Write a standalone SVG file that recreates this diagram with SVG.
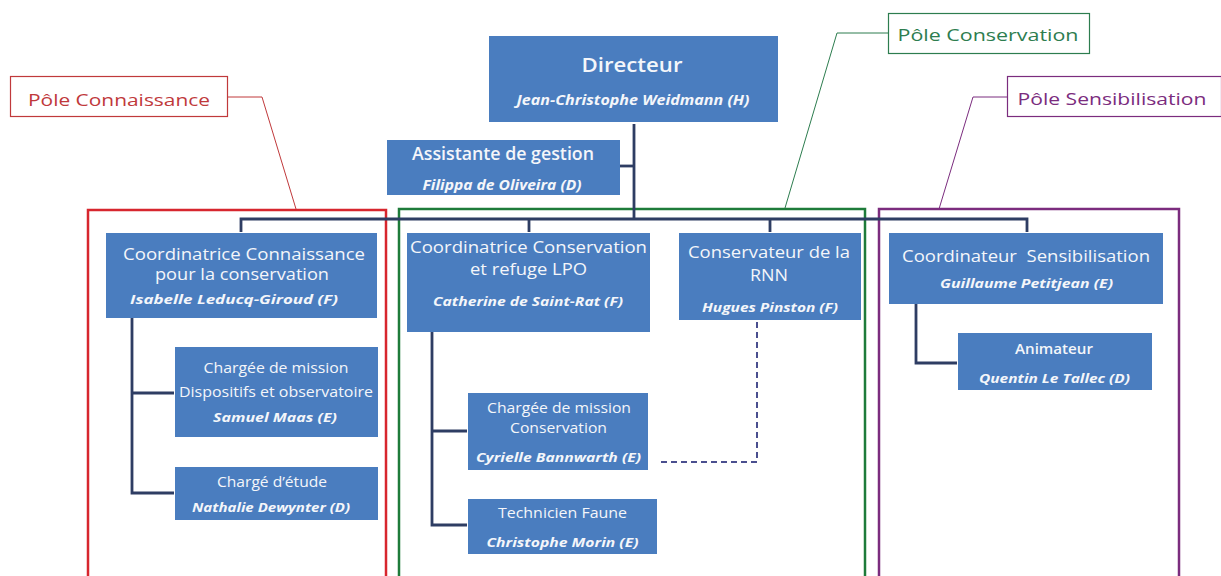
<svg xmlns="http://www.w3.org/2000/svg" width="1221" height="576" viewBox="0 0 1221 576">
<style>
.box{fill:#4a7dbf}
.t{font-family:"Open Sans","Liberation Sans",sans-serif;fill:#f4f6fa;text-anchor:middle}
.n{font-family:"Open Sans","Liberation Sans",sans-serif;fill:#f4f6fa;text-anchor:middle;font-style:italic;font-weight:bold}
.conn{fill:none;stroke:#2e3d63;stroke-width:2.8}
.dash{fill:none;stroke:#4a4f8f;stroke-width:2;stroke-dasharray:6 4}
.lbl{font-family:"Open Sans","Liberation Sans",sans-serif;font-size:17px;text-anchor:middle}
</style>
<rect width="1221" height="576" fill="#ffffff"/>

<g id="pole-connaissance">
<rect x="88" y="210" width="298" height="380" fill="none" stroke="#d7262e" stroke-width="2.5"/>
<rect x="10.5" y="76.5" width="217" height="40" fill="#fff" stroke="#c0393b" stroke-width="1.2"/>
<text class="lbl" x="119" y="106" fill="#c0393b" textLength="182" lengthAdjust="spacingAndGlyphs">Pôle Connaissance</text>
<polyline points="228,97 262,97 296,209" fill="none" stroke="#c0393b" stroke-width="1"/>
</g>
<g id="pole-conservation">
<rect x="399" y="209" width="466" height="380" fill="none" stroke="#1e7b3a" stroke-width="2.5"/>
<rect x="888.5" y="13.5" width="201" height="40" fill="#fff" stroke="#2d7d4f" stroke-width="1.2"/>
<text class="lbl" x="988" y="41" fill="#2d7d4f" textLength="181" lengthAdjust="spacingAndGlyphs">Pôle Conservation</text>
<polyline points="888,33 837,33 785,208" fill="none" stroke="#2d7d4f" stroke-width="1"/>
</g>
<g id="pole-sensibilisation">
<rect x="879" y="209" width="300" height="380" fill="none" stroke="#7b2c7e" stroke-width="2.5"/>
<rect x="1007.5" y="76.5" width="214" height="40" fill="#fff" stroke="#7b2c7e" stroke-width="1.2"/>
<text class="lbl" x="1112" y="105" fill="#7b2c7e" textLength="189" lengthAdjust="spacingAndGlyphs">Pôle Sensibilisation</text>
<polyline points="1007,97 973,97 939,209" fill="none" stroke="#7b2c7e" stroke-width="1"/>
</g>

<g id="connectors">
<polyline class="conn" points="634,124 634,219"/>
<polyline class="conn" points="620,166 634,166"/>
<polyline class="conn" points="241,232 241,219 1027,219 1027,232"/>
<polyline class="conn" points="529,219 529,232"/>
<polyline class="conn" points="770,219 770,232"/>
<polyline class="conn" points="132,318 132,493 174,493"/>
<polyline class="conn" points="132,393 174,393"/>
<polyline class="conn" points="432,332 432,525 467,525"/>
<polyline class="conn" points="432,431 467,431"/>
<polyline class="conn" points="916,304 916,363 957,363"/>
<polyline class="dash" points="757,322 757,462 660,462"/>
</g>

<g id="directeur">
<rect class="box" x="489" y="36" width="289" height="86"/>
<text class="t" x="632" y="72" font-size="20" font-weight="600" textLength="101" lengthAdjust="spacingAndGlyphs">Directeur</text>
<text class="n" x="633" y="105" font-size="14" textLength="233" lengthAdjust="spacingAndGlyphs">Jean-Christophe Weidmann (H)</text>
</g>
<g id="assistante">
<rect class="box" x="387" y="140" width="233" height="55"/>
<text class="t" x="503" y="160" font-size="18" font-weight="600" textLength="182" lengthAdjust="spacingAndGlyphs">Assistante de gestion</text>
<text class="n" x="502" y="190" font-size="14" textLength="159" lengthAdjust="spacingAndGlyphs">Filippa de Oliveira (D)</text>
</g>

<g id="coord-connaissance">
<rect class="box" x="106" y="233" width="271" height="85"/>
<text class="t" x="244" y="260" font-size="15.5" textLength="242" lengthAdjust="spacingAndGlyphs">Coordinatrice Connaissance</text>
<text class="t" x="242" y="280" font-size="15.5" textLength="174" lengthAdjust="spacingAndGlyphs">pour la conservation</text>
<text class="n" x="234" y="304" font-size="13" textLength="208" lengthAdjust="spacingAndGlyphs">Isabelle Leducq-Giroud (F)</text>
</g>
<g id="charge-mission-dispositifs">
<rect class="box" x="175" y="347" width="203" height="90"/>
<text class="t" x="276" y="373" font-size="14" textLength="145" lengthAdjust="spacingAndGlyphs">Chargée de mission</text>
<text class="t" x="276" y="397" font-size="14" textLength="194" lengthAdjust="spacingAndGlyphs">Dispositifs et observatoire</text>
<text class="n" x="275" y="422" font-size="13" textLength="124" lengthAdjust="spacingAndGlyphs">Samuel Maas (E)</text>
</g>
<g id="charge-etude">
<rect class="box" x="175" y="467" width="203" height="53"/>
<text class="t" x="272" y="487" font-size="14" textLength="110" lengthAdjust="spacingAndGlyphs">Chargé d’étude</text>
<text class="n" x="271" y="512" font-size="13" textLength="158" lengthAdjust="spacingAndGlyphs">Nathalie Dewynter (D)</text>
</g>

<g id="coord-conservation">
<rect class="box" x="407" y="233" width="243" height="99"/>
<text class="t" x="528.5" y="253" font-size="16.5" textLength="237" lengthAdjust="spacingAndGlyphs">Coordinatrice Conservation</text>
<text class="t" x="528.5" y="275" font-size="16.5" textLength="117" lengthAdjust="spacingAndGlyphs">et refuge LPO</text>
<text class="n" x="528" y="306" font-size="13" textLength="190" lengthAdjust="spacingAndGlyphs">Catherine de Saint-Rat (F)</text>
</g>
<g id="conservateur-rnn">
<rect class="box" x="679" y="233" width="182" height="87"/>
<text class="t" x="769" y="258" font-size="16.5" textLength="162" lengthAdjust="spacingAndGlyphs">Conservateur de la</text>
<text class="t" x="769" y="281" font-size="16.5" textLength="38" lengthAdjust="spacingAndGlyphs">RNN</text>
<text class="n" x="770" y="312" font-size="13" textLength="136" lengthAdjust="spacingAndGlyphs">Hugues Pinston (F)</text>
</g>
<g id="charge-mission-conservation">
<rect class="box" x="468" y="393" width="180" height="77"/>
<text class="t" x="559" y="413" font-size="14" textLength="144" lengthAdjust="spacingAndGlyphs">Chargée de mission</text>
<text class="t" x="558.5" y="433" font-size="14" textLength="97" lengthAdjust="spacingAndGlyphs">Conservation</text>
<text class="n" x="558.5" y="462" font-size="13" textLength="165" lengthAdjust="spacingAndGlyphs">Cyrielle Bannwarth (E)</text>
</g>
<g id="technicien-faune">
<rect class="box" x="468" y="499" width="189" height="55"/>
<text class="t" x="562.5" y="518" font-size="14" textLength="129" lengthAdjust="spacingAndGlyphs">Technicien Faune</text>
<text class="n" x="562.5" y="547" font-size="13" textLength="152" lengthAdjust="spacingAndGlyphs">Christophe Morin (E)</text>
</g>

<g id="coord-sensibilisation">
<rect class="box" x="889" y="233" width="274" height="71"/>
<text class="t" x="1026" y="262" font-size="17" textLength="248" lengthAdjust="spacingAndGlyphs" style="white-space:pre">Coordinateur  Sensibilisation</text>
<text class="n" x="1026.5" y="288" font-size="13" textLength="173" lengthAdjust="spacingAndGlyphs">Guillaume Petitjean (E)</text>
</g>
<g id="animateur">
<rect class="box" x="958" y="333" width="194" height="57"/>
<text class="t" x="1054" y="354" font-size="14" font-weight="600" textLength="78" lengthAdjust="spacingAndGlyphs">Animateur</text>
<text class="n" x="1054.5" y="383" font-size="13" textLength="151" lengthAdjust="spacingAndGlyphs">Quentin Le Tallec (D)</text>
</g>
</svg>
